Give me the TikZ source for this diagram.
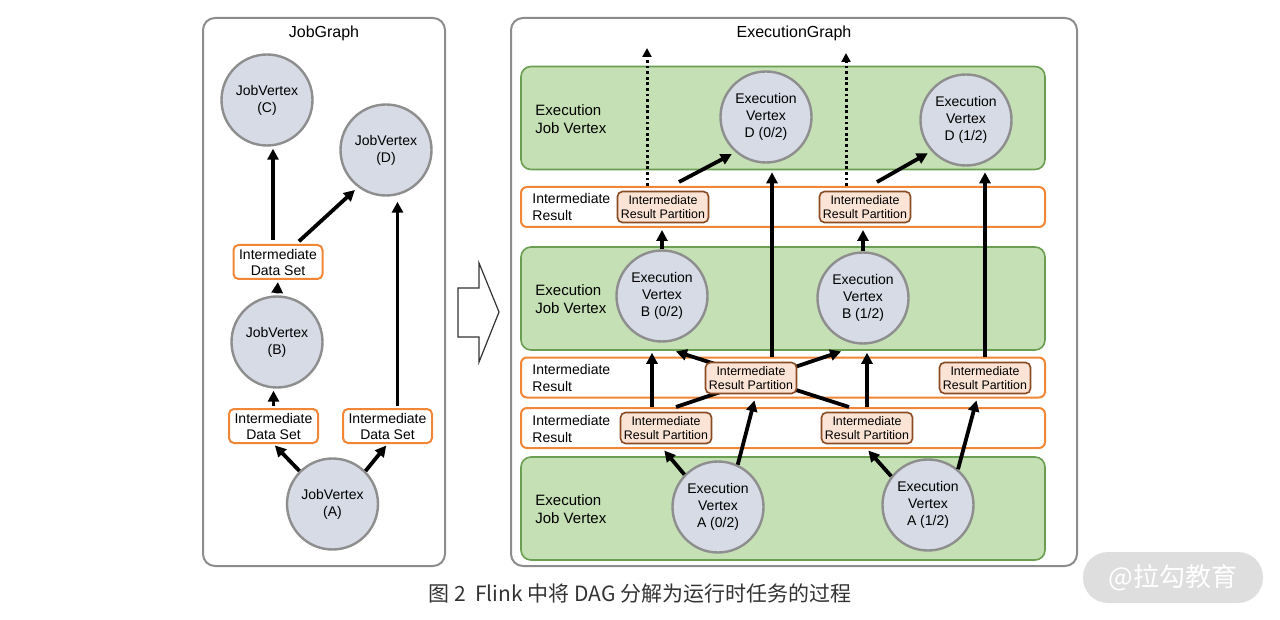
\documentclass[tikz,border=0pt]{standalone}
\usepackage{fontspec}
\setmainfont{Liberation Sans}
\newfontfamily\cjk{Noto Sans CJK SC}
\usetikzlibrary{arrows.meta}
\definecolor{vfill}{HTML}{D6DBE6}
\definecolor{vline}{HTML}{8E8E8E}
\definecolor{gfill}{HTML}{C5E0B4}
\definecolor{gline}{HTML}{6A9E50}
\definecolor{oline}{HTML}{F08636}
\definecolor{pfill}{HTML}{FBE4D5}
\definecolor{pline}{HTML}{8A4A22}
\definecolor{rahmen}{HTML}{8C8C8C}
\tikzset{%
		vertex/.style={circle,draw=vline,line width=1.2pt,fill=vfill,minimum size=45.5pt,inner sep=0pt,align=center,font=\fontsize{7}{8.6}\selectfont},
		dataset/.style={draw=oline,line width=1pt,fill=white,rounded corners=2.5pt,minimum width=44.5pt,minimum height=17pt,inner sep=0pt,align=center,font=\fontsize{7}{8}\selectfont},
		part/.style={draw=pline,line width=0.8pt,fill=pfill,rounded corners=2.5pt,minimum width=45.5pt,minimum height=15.5pt,inner sep=0pt,align=center,font=\fontsize{6.2}{7.4}\selectfont},
		jobband/.style={draw=gline,line width=0.8pt,fill=gfill,rounded corners=5pt,minimum width=262pt,minimum height=51.5pt,inner sep=0pt},
		resband/.style={draw=oline,line width=1pt,fill=white,rounded corners=3pt,minimum width=262pt,minimum height=20pt,inner sep=0pt},
		flow/.style={line width=1.9pt,-{Triangle[length=5.5pt,width=5.5pt]},shorten >=1pt},
		dotflow/.style={line width=1.5pt,dash pattern=on 1.4pt off 1.4pt,-{Triangle[length=4.5pt,width=4.5pt]}},
		panel/.style={draw=rahmen,line width=1pt,rounded corners=6pt},
		lbl/.style={anchor=west,align=left,inner sep=0pt}
	}

\begin{document}
\begin{tikzpicture}[x=0.5pt,y=-0.5pt]
    \useasboundingbox (0,0) rectangle (1280,620);
    % JobGraph
    \draw[panel] (203,18) rectangle (445,566);
    \node[font=\fontsize{8}{9}\selectfont] (jgTitel) at (324,33) {JobGraph};
    \node[vertex] (jvC) at (267,100) {JobVertex\\(C)};
    \node[vertex] (jvD) at (386,150) {JobVertex\\(D)};
    \node[vertex] (jvB) at (277,342) {JobVertex\\(B)};
    \node[vertex] (jvA) at (332.5,504) {JobVertex\\(A)};
    \node[dataset] (dsB) at (278,262) {Intermediate\\Data Set};
    \node[dataset] (dsA1) at (273.5,426) {Intermediate\\Data Set};
    \node[dataset] (dsA2) at (387.5,426) {Intermediate\\Data Set};
    \draw[flow,shorten <=2pt] ([xshift=-2.5pt]dsB.north) -- ([xshift=-2.5pt]dsB.north |- jvC.south);
    \draw[flow,shorten <=2pt,shorten >=2pt] ([xshift=9pt]dsB.north) -- (jvD.233);
    \draw[flow,shorten <=1pt] (jvB.north) -- (dsB.south);
    \draw[flow,shorten <=1pt] (dsA1.north) -- (dsA1.north |- jvB.south);
    \draw[flow] (jvA.135) -- (dsA1.south);
    \draw[flow] (jvA.45) -- (dsA2.south);
    \draw[flow,shorten <=1pt,shorten >=2.5pt] ([xshift=5pt]dsA2.north) -- ([xshift=5pt]dsA2.north |- jvD.south);
    % Pfeil
    \draw[line width=0.6pt,draw=black!80,fill=white] (458,288) -- (479,288) -- (479,263) -- (499,312) -- (479,362) -- (479,337) -- (458,337) -- cycle;
    % ExecutionGraph
    \draw[panel] (511,18) rectangle (1077,566);
    \node[font=\fontsize{8}{9}\selectfont] (egTitel) at (794,33) {ExecutionGraph};
    \node[jobband] (gTop) at (783,118) {};
    \node[jobband] (gMid) at (783,298.5) {};
    \node[jobband] (gBot) at (783,508.5) {};
    \node[resband] (oR1) at (783,207) {};
    \node[resband] (oR2) at (783,377.5) {};
    \node[resband] (oR3) at (783,428) {};
    \node[lbl,font=\fontsize{7.5}{9}\selectfont] (ejvTop) at (535,119) {Execution\\Job Vertex};
    \node[lbl,font=\fontsize{7.5}{9}\selectfont] (ejvMid) at (535,299) {Execution\\Job Vertex};
    \node[lbl,font=\fontsize{7.5}{9}\selectfont] (ejvBot) at (535,509) {Execution\\Job Vertex};
    \node[lbl,font=\fontsize{7}{8.4}\selectfont] (irR1) at (532,207) {Intermediate\\Result};
    \node[lbl,font=\fontsize{7}{8.4}\selectfont] (irR2) at (532,378) {Intermediate\\Result};
    \node[lbl,font=\fontsize{7}{8.4}\selectfont] (irR3) at (532,429) {Intermediate\\Result};
    \node[vertex] (evD0) at (766,117) {Execution\\Vertex\\D (0/2)};
    \node[vertex] (evD1) at (966,120) {Execution\\Vertex\\D (1/2)};
    \node[vertex] (evB0) at (662,296) {Execution\\Vertex\\B (0/2)};
    \node[vertex] (evB1) at (863,298) {Execution\\Vertex\\B (1/2)};
    \node[vertex] (evA0) at (718,507) {Execution\\Vertex\\A (0/2)};
    \node[vertex] (evA1) at (928,505) {Execution\\Vertex\\A (1/2)};
    \node[part] (pR3a) at (666,428) {Intermediate\\Result Partition};
    \node[part] (pR3b) at (867,428) {Intermediate\\Result Partition};
    \node[part] (pR1a) at (663,207) {Intermediate\\Result Partition};
    \node[part] (pR1b) at (865,207) {Intermediate\\Result Partition};
    \node[part] (pR2b) at (985,378) {Intermediate\\Result Partition};
    \draw[flow] ([xshift=5pt]pR3a.north |- oR3.north) -- ([xshift=-10pt]evB1.south |- gMid.south);
    \draw[flow] ([xshift=-9pt]pR3b.north |- oR3.north) -- ([xshift=6pt]evB0.south |- gMid.south);
    \node[part] (pR2a) at (751,378) {Intermediate\\Result Partition};
    \coordinate (outD0) at (647,48);
    \coordinate (outD1) at (846,53);
    \draw[dotflow] (outD0 |- oR1.north) -- (outD0);
    \draw[dotflow] (outD1 |- oR1.north) -- (outD1);
    \draw[flow] (evB0.north) -- (evB0.north |- oR1.south);
    \draw[flow] (evB1.north) -- (evB1.north |- oR1.south);
    \draw[flow,shorten >=2pt] ([xshift=8pt,yshift=2pt]pR1a.north |- oR1.north) -- (evD0.229);
    \draw[flow,shorten >=2pt] ([xshift=6pt,yshift=2pt]pR1b.north |- oR1.north) -- (evD1.222);
    \draw[flow] ([xshift=10.5pt]pR2a.north |- oR2.north) -- ([xshift=10.5pt]pR2a.north |- gTop.south);
    \draw[flow] (pR2b.north |- oR2.north) -- (pR2b.north |- gTop.south);
    \draw[flow] ([xshift=-7pt]pR3a.north |- oR3.north) -- ([xshift=-7pt]pR3a.north |- gMid.south);
    \draw[flow] (pR3b.north |- oR3.north) -- (pR3b.north |- gMid.south);
    \draw[flow] (evA0.136) -- ([xshift=-1.5pt]pR3a.south |- oR3.south);
    \draw[flow] (evA0.65) -- ([xshift=2pt]pR2a.south |- oR2.south);
    \draw[flow] (evA1.142) -- (pR3b.south |- oR3.south);
    \draw[flow] (evA1.50) -- ([xshift=-4pt]pR2b.south |- oR2.south);
    % Unterschrift
    \node[font=\cjk\fontsize{10.5}{12}\selectfont,text=black!80] (bildtitel) at (640,594) {图 2\ \ Flink 中将 DAG 分解为运行时任务的过程};
    \node[fill=black!13,rounded corners=12.5pt,minimum width=90pt,minimum height=25.5pt,inner sep=0pt,text=white,font=\cjk\fontsize{13}{14}\selectfont] (marke) at (1173,577.5) {@拉勾教育};
\end{tikzpicture}
\end{document}
